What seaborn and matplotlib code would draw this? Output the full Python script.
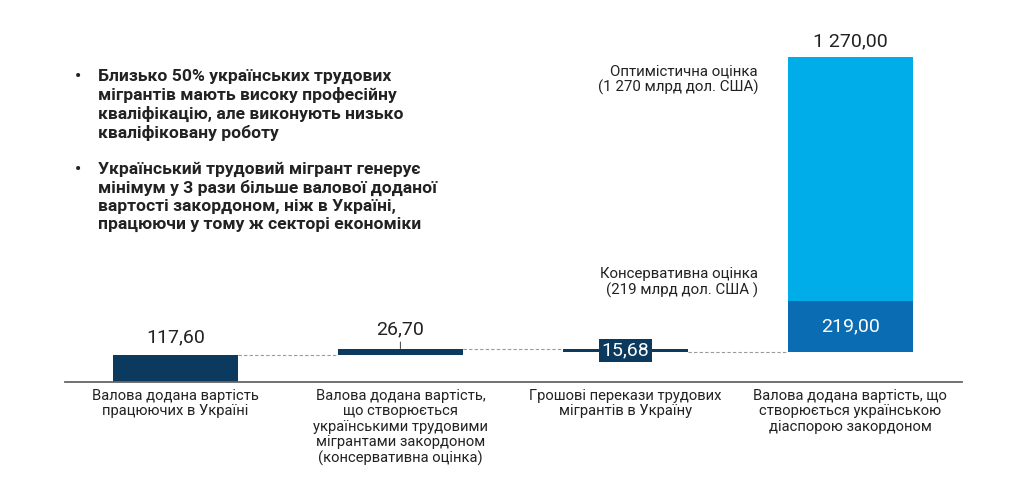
import numpy as np
import pandas as pd
import matplotlib
matplotlib.use("Agg")
import matplotlib.pyplot as plt
import seaborn as sns

#: chart data (bn USD)
categories = [
    "Валова додана вартість\nпрацюючих в Україні",
    "Валова додана вартість,\nщо створюється\nукраїнськими трудовими\nмігрантами закордоном\n(консервативна оцінка)",
    "Грошові перекази трудових\nмігрантів в Україну",
    "Валова додана вартість, що\nстворюється українською\nдіаспорою закордоном",
]
steps = [117.60, 26.70, -15.68, 219.00]      # conservative waterfall steps
optimistic_total = 1270.00
value_labels = ["117,60", "26,70", "15,68", "219,00"]
optimistic_label = "1 270,00"

bullets = [
    "Близько 50% українських трудових\nмігрантів мають високу професійну\nкваліфікацію, але виконують низько\nкваліфіковану роботу",
    "Український трудовий мігрант генерує\nмінімум у 3 рази більше валової доданої\nвартості закордоном, ніж в Україні,\nпрацюючи у тому ж секторі економіки",
]
opt_note = "Оптимістична оцінка\n(1 270 млрд дол. США)"
cons_note = "Консервативна оцінка\n(219 млрд дол. США )"

NAVY = "#0b3a5e"
DARK = "#0a6db3"
LIGHT = "#00ade9"
TXT = "#222222"

sns.set_style("white")
plt.rcParams["font.family"] = ["Roboto", "DejaVu Sans"]

# waterfall geometry
ends = np.cumsum(steps)
starts = np.concatenate([[0], ends[:-1]])
tops = np.maximum(starts, ends)
lows = np.minimum(starts, ends)
light_top = starts[3] + optimistic_total

keys = ["c0", "c1", "c2", "c3"]
layer_top = pd.DataFrame({"cat": keys, "val": list(tops[:3]) + [light_top]})
layer_dark = pd.DataFrame({"cat": keys, "val": [0, 0, 0, ends[3]]})
layer_base = pd.DataFrame({"cat": keys, "val": list(lows[:3]) + [starts[3]]})

W, H = 1024, 499
fig = plt.figure(figsize=(W / 100, H / 100), dpi=100)
ax = fig.add_axes([65 / W, 1 - 382 / H, (962 - 65) / W, (382 - 20) / H])

bw = 125 / 225
sns.barplot(data=layer_top, x="cat", y="val", hue="cat",
            palette=[NAVY, NAVY, NAVY, LIGHT], width=bw, legend=False,
            saturation=1, linewidth=0, ax=ax, zorder=2)
sns.barplot(data=layer_dark, x="cat", y="val", color=DARK, width=bw,
            saturation=1, linewidth=0, ax=ax, zorder=3)
sns.barplot(data=layer_base, x="cat", y="val", color="white", width=bw,
            saturation=1, linewidth=0, ax=ax, zorder=4)

ax.set_xlim(-0.491, 3.496)
ax.set_ylim(0, 1560)
ax.set_xticks([])
ax.set_yticks([])
ax.set_xlabel("")
ax.set_ylabel("")
for s in ["top", "right", "left"]:
    ax.spines[s].set_visible(False)
ax.spines["bottom"].set_color("#666666")
ax.spines["bottom"].set_linewidth(1.3)
ax.spines["bottom"].set_zorder(6)

# dashed connectors
conn = [ends[0], ends[1], ends[2]]
for i, yv in enumerate(conn):
    ax.plot([i + bw / 2, i + 1 - bw / 2], [yv, yv], ls=(0, (3, 2)),
            color="#9a9a9a", lw=0.8, zorder=1)

# value labels
ax.annotate(value_labels[0], (0, tops[0]), xytext=(0, 6), textcoords="offset points",
            ha="center", va="bottom", fontsize=14, color=TXT)
ax.annotate(value_labels[1], (1, tops[1]), xytext=(0, 7), textcoords="offset points",
            ha="center", va="bottom", fontsize=14, color=TXT,
            arrowprops=dict(arrowstyle="-", color="#555555", lw=0.8,
                            shrinkA=0, shrinkB=0))
ax.text(2, (starts[2] + ends[2]) / 2, value_labels[2], ha="center", va="center",
        fontsize=14, color="white", zorder=7,
        bbox=dict(boxstyle="square,pad=0.12", fc=NAVY, ec="none"))
ax.text(3, (starts[3] + ends[3]) / 2, value_labels[3], ha="center", va="center",
        fontsize=14, color="white", zorder=7)
ax.annotate(optimistic_label, (3, light_top), xytext=(0, 5), textcoords="offset points",
            ha="center", va="bottom", fontsize=14, color=TXT)

# category labels
for i, lab in enumerate(categories):
    ax.annotate(lab, (i, 0), xytext=(0, -5), textcoords="offset points",
                ha="center", va="top", fontsize=10.6, color=TXT,
                linespacing=1.12, annotation_clip=False)

# side notes
fig.text(758 / W, 1 - 64 / H, opt_note, ha="right", va="top", fontsize=10.8,
         color=TXT, linespacing=1.17)
fig.text(758 / W, 1 - 267 / H, cons_note, ha="right", va="top", fontsize=10.8,
         color=TXT, linespacing=1.17)

# bullets
ytops = [69, 162]
for yt, b in zip(ytops, bullets):
    fig.text(75 / W, 1 - yt / H, "•", ha="left", va="top", fontsize=12.6,
             fontweight="bold", color=TXT)
    fig.text(98 / W, 1 - yt / H, b, ha="left", va="top", fontsize=12.6,
             fontweight="bold", color=TXT, linespacing=1.22)

fig.savefig("out.png", dpi=100, facecolor="white")
